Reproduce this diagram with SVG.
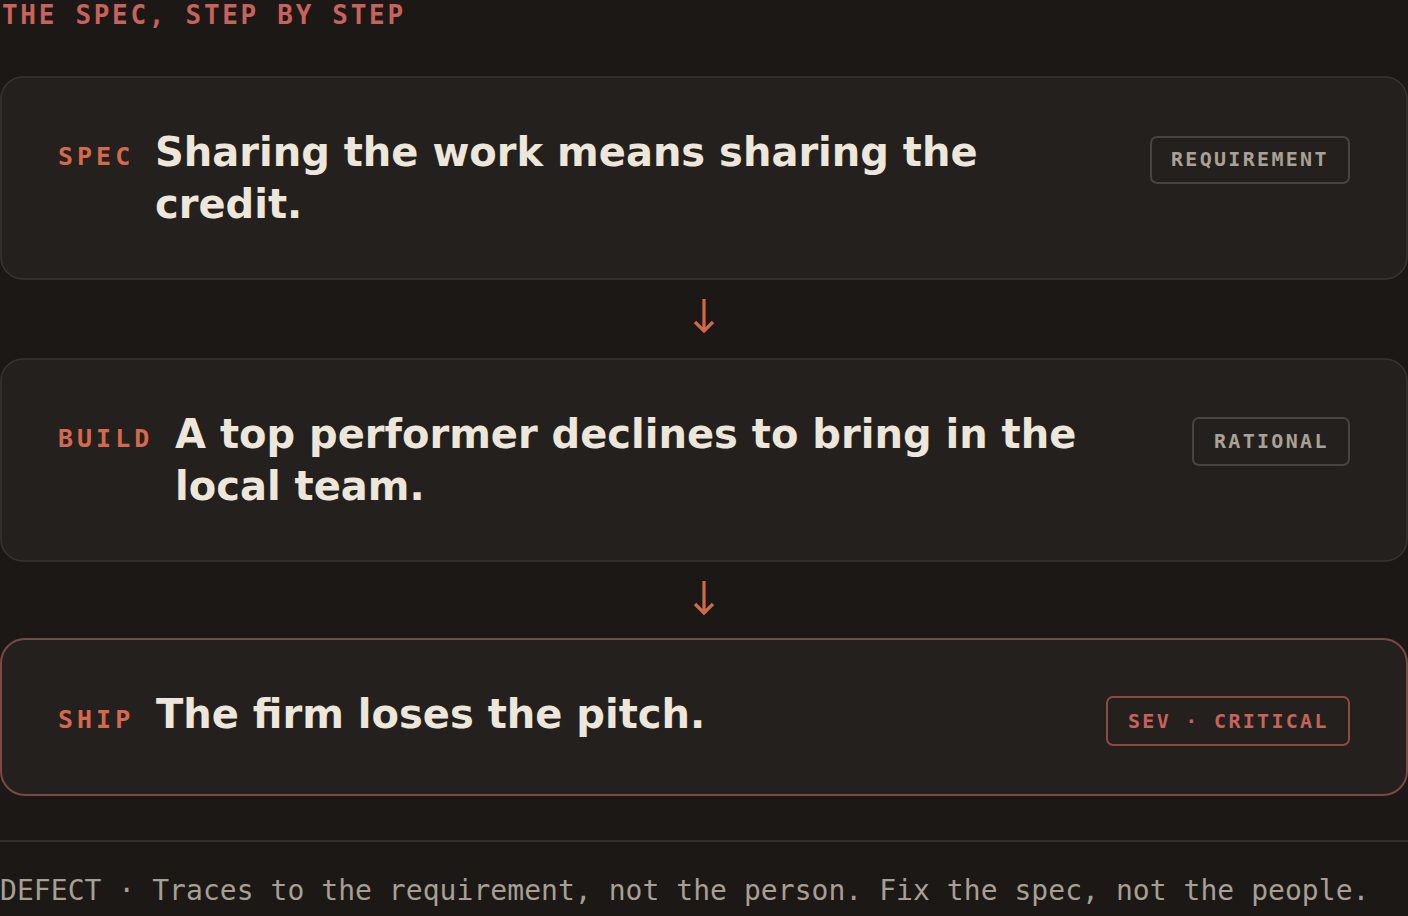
<svg xmlns="http://www.w3.org/2000/svg" width="1408" height="916" viewBox="0 0 1408 916">
  <defs>
    <style>
      .bg { fill: #1c1815; }
      .card { fill: #24201d; stroke: #3a3430; stroke-width: 1.5; }
      .card-crit { fill: #24201d; stroke: #7a4845; stroke-width: 2; }
      .title { font-family: "DejaVu Sans Mono", monospace; font-size: 26px; font-weight: bold; letter-spacing: 2.7px; fill: #c8625c; }
      .label { font-family: "DejaVu Sans Mono", monospace; font-size: 25px; font-weight: bold; letter-spacing: 4px; fill: #d4694d; }
      .head { font-family: "DejaVu Sans", sans-serif; font-size: 40px; font-weight: bold; fill: #ede6da; }
      .tagbox { fill: none; stroke: #4a433e; stroke-width: 2; }
      .tagbox-crit { fill: none; stroke: #8a4a46; stroke-width: 2; }
      .tag { font-family: "DejaVu Sans Mono", monospace; font-size: 20px; font-weight: bold; letter-spacing: 2.3px; fill: #aaa196; }
      .tag-crit { font-family: "DejaVu Sans Mono", monospace; font-size: 20px; font-weight: bold; letter-spacing: 2.3px; fill: #c8625c; }
      .arrow { fill: none; stroke: #d0694a; stroke-width: 3.2; stroke-linecap: butt; stroke-linejoin: miter; }
      .rule { stroke: #36302b; stroke-width: 2; }
      .foot { font-family: "DejaVu Sans Mono", monospace; font-size: 28px; letter-spacing: 0.05px; fill: #a89f94; }
    </style>
  </defs>
  <rect class="bg" x="0" y="0" width="1408" height="916"/>

  <g id="title">
    <text class="title" x="2" y="24">THE SPEC, STEP BY STEP</text>
  </g>

  <g id="node-spec">
    <rect class="card" x="1" y="77" width="1406" height="202" rx="22"/>
    <text class="label" x="58" y="165">SPEC</text>
    <text class="head" x="155" y="166">Sharing the work means sharing the</text>
    <text class="head" x="155" y="218">credit.</text>
    <rect class="tagbox" x="1151" y="137" width="198" height="46" rx="6"/>
    <text class="tag" x="1171" y="166">REQUIREMENT</text>
  </g>

  <g id="node-build">
    <rect class="card" x="1" y="359" width="1406" height="202" rx="22"/>
    <text class="label" x="58" y="447">BUILD</text>
    <text class="head" x="175" y="448">A top performer declines to bring in the</text>
    <text class="head" x="175" y="500">local team.</text>
    <rect class="tagbox" x="1193" y="418" width="156" height="47" rx="6"/>
    <text class="tag" x="1214" y="448">RATIONAL</text>
  </g>

  <g id="node-ship">
    <rect class="card-crit" x="1" y="639" width="1406" height="156" rx="24"/>
    <text class="label" x="58" y="728">SHIP</text>
    <text class="head" x="156" y="728">The firm loses the pitch.</text>
    <rect class="tagbox-crit" x="1107" y="697" width="242" height="48" rx="6"/>
    <text class="tag-crit" x="1128" y="728">SEV · CRITICAL</text>
  </g>

  <g id="connectors">
    <path class="arrow" d="M704 299 V331 M695 322 L704 331 L713 322"/>
    <path class="arrow" d="M704 581 V613 M695 604 L704 613 L713 604"/>
  </g>

  <g id="footer">
    <line class="rule" x1="0" y1="841" x2="1408" y2="841"/>
    <text class="foot" x="0" y="900">DEFECT · Traces to the requirement, not the person. Fix the spec, not the people.</text>
  </g>
</svg>
